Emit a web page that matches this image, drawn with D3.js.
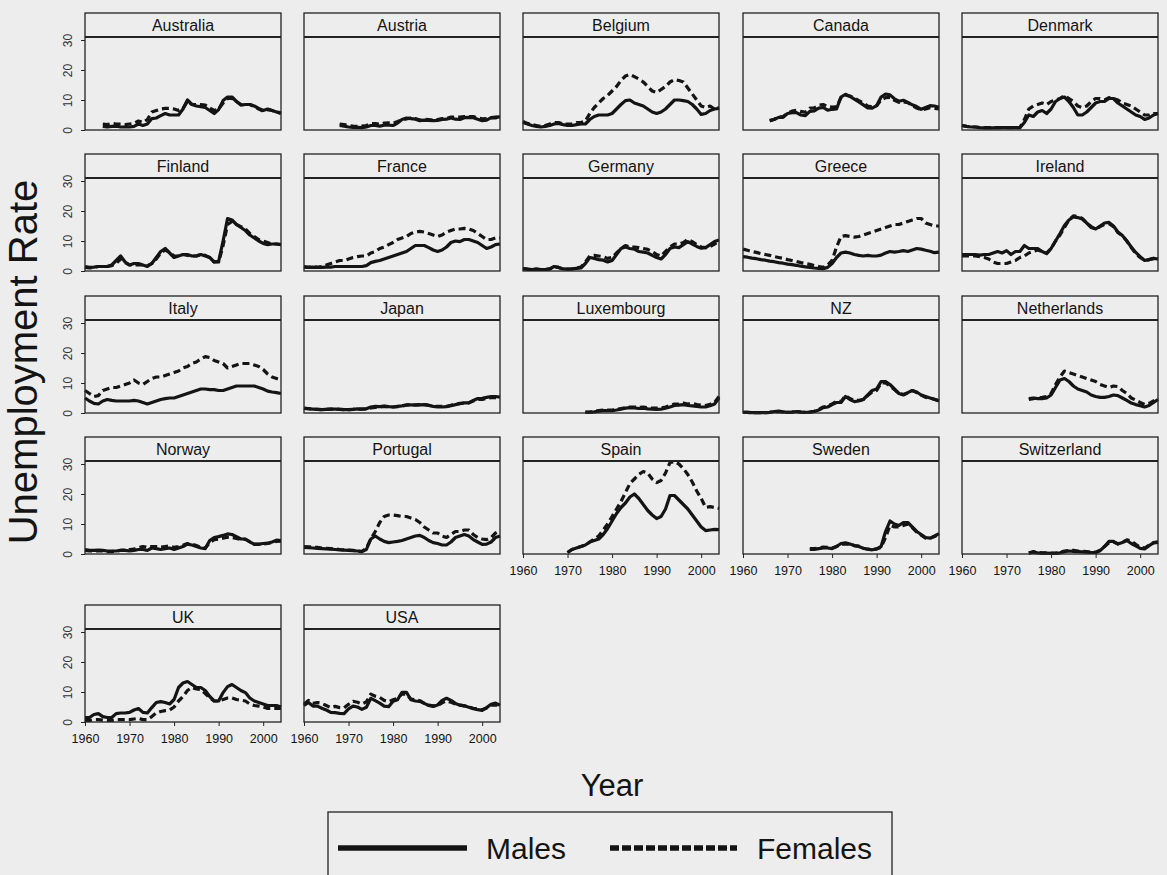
<!DOCTYPE html>
<html>
<head>
<meta charset="utf-8">
<script src="https://cdn.jsdelivr.net/npm/d3@7"></script>
<style>
  html, body { margin: 0; padding: 0; background: #ededed; }
  svg { display: block; font-family: "Liberation Sans", Arial, Helvetica, sans-serif; }
</style>
</head>
<body>
<svg id="chart" width="1167" height="875"></svg>
<script>
// Unemployment rate (%) by sex, OECD countries, annual values.
const countries = ["Australia", "Austria", "Belgium", "Canada", "Denmark",
  "Finland", "France", "Germany", "Greece", "Ireland",
  "Italy", "Japan", "Luxembourg", "NZ", "Netherlands",
  "Norway", "Portugal", "Spain", "Sweden", "Switzerland",
  "UK", "USA"];

// first year of each country's series; every series runs to 2004
const firstYear = [1964, 1968, 1960, 1966, 1960,
  1960, 1960, 1960, 1960, 1960,
  1960, 1960, 1974, 1960, 1975,
  1960, 1960, 1970, 1975, 1975,
  1960, 1960];

const males = [
  [1.2,1.0,1.2,1.3,1.0,1.0,1.0,1.2,2.0,1.5,2.0,3.8,4.0,4.8,5.5,5.0,5.0,5.0,7.0,10.0,8.5,8.0,7.8,7.5,6.5,5.5,6.8,9.8,11.0,11.0,9.5,8.3,8.5,8.5,8.0,7.2,6.5,7.0,6.5,6.0,5.5],
  [1.5,1.3,1.0,0.9,0.9,0.8,1.0,1.5,1.5,1.3,1.6,1.6,1.5,2.3,3.5,4.0,3.8,3.6,3.1,3.3,3.2,3.1,3.2,3.5,3.6,4.0,3.6,3.5,4.1,4.2,4.1,3.6,3.1,3.3,4.1,4.3,4.4],
  [2.5,2.0,1.5,1.2,1.0,1.2,1.5,2.0,2.2,1.8,1.5,1.5,1.8,2.0,2.0,3.5,4.5,5.0,5.0,5.0,5.5,7.0,8.5,9.8,10.0,9.0,8.5,8.0,7.0,6.0,5.5,6.0,7.0,8.5,10.0,10.0,9.8,9.5,8.5,7.0,5.2,5.5,6.5,7.0,7.2],
  [3.2,3.5,4.2,4.2,5.5,5.8,5.8,5.0,4.8,6.2,6.4,7.3,7.5,6.6,6.9,7.0,11.0,11.9,11.2,10.3,9.4,8.4,7.4,7.3,8.1,11.0,12.0,11.7,10.4,9.6,9.9,9.2,8.4,7.8,6.9,7.5,8.1,8.0,7.6],
  [1.5,1.2,1.0,1.0,0.8,0.7,0.7,0.7,0.8,0.8,0.8,0.8,0.8,0.8,2.5,5.0,4.5,6.0,6.5,5.5,7.0,9.5,10.5,11.0,9.5,7.5,5.0,5.0,6.0,7.5,9.0,9.5,9.5,10.5,10.5,9.0,8.0,7.0,6.0,5.0,4.5,3.5,4.0,5.0,5.5],
  [1.5,1.2,1.3,1.5,1.5,1.5,2.0,3.5,5.0,3.0,2.0,2.5,2.5,2.0,1.5,2.5,4.5,6.5,7.5,6.0,4.5,5.0,5.5,5.5,5.0,5.0,5.5,5.0,4.5,3.0,3.2,10.0,17.5,17.0,15.5,14.5,13.5,12.0,11.0,10.0,9.2,8.8,9.0,9.0,8.8],
  [1.3,1.2,1.3,1.2,1.2,1.3,1.3,1.5,1.5,1.5,1.5,1.5,1.5,1.5,1.8,2.8,3.2,3.5,4.0,4.5,5.0,5.5,6.0,6.5,7.5,8.5,8.5,8.5,7.8,7.0,6.5,7.0,8.0,9.5,10.0,9.8,10.5,10.5,10.0,9.5,8.5,7.5,8.0,8.8,9.0],
  [0.8,0.6,0.5,0.6,0.5,0.5,0.7,1.5,1.2,0.7,0.6,0.7,0.9,1.0,2.5,4.5,4.2,3.8,3.6,3.0,3.5,5.5,7.5,8.0,7.5,7.3,6.5,6.3,6.0,5.2,4.5,4.0,5.5,7.5,8.0,7.8,8.8,9.8,9.0,8.2,7.6,7.8,8.8,9.8,10.3],
  [4.8,4.6,4.3,4.1,3.8,3.6,3.3,3.1,2.8,2.6,2.3,2.1,1.9,1.6,1.4,1.2,1.0,0.9,0.8,1.2,2.5,4.5,6.0,6.3,6.0,5.5,5.2,5.0,5.2,5.0,5.0,5.3,6.0,6.5,6.3,6.5,6.8,6.5,7.0,7.5,7.3,6.9,6.6,6.1,6.3],
  [5.5,5.5,5.5,5.5,5.3,5.5,5.5,6.0,6.5,6.0,6.8,5.5,6.5,6.5,8.5,7.5,7.5,7.5,6.5,5.8,7.5,10.0,12.5,15.2,17.0,18.0,17.8,17.3,16.0,14.5,14.0,15.0,16.0,16.2,15.0,13.0,11.8,10.0,8.0,6.2,4.8,3.5,3.8,4.2,4.0],
  [5.0,4.0,3.2,3.0,4.0,4.5,4.2,4.0,4.0,4.0,4.0,4.2,4.0,3.5,3.0,3.5,4.0,4.5,4.8,5.0,5.0,5.5,6.0,6.5,7.0,7.5,8.0,8.0,7.8,7.8,7.5,7.5,8.0,8.5,9.0,9.0,9.0,9.0,9.0,8.5,8.0,7.3,7.0,6.8,6.5],
  [1.5,1.4,1.3,1.2,1.1,1.2,1.3,1.3,1.2,1.1,1.1,1.2,1.4,1.3,1.4,2.0,2.2,2.1,2.3,2.1,2.0,2.2,2.4,2.7,2.7,2.6,2.7,2.8,2.5,2.2,2.0,2.0,2.1,2.4,2.8,3.1,3.4,3.4,4.2,4.8,4.9,5.2,5.5,5.5,5.3],
  [0.3,0.3,0.4,0.6,0.8,0.8,0.8,1.0,1.3,1.6,1.8,1.7,1.5,1.6,1.4,1.3,1.2,1.3,1.6,2.0,2.5,2.6,2.8,2.5,2.4,2.2,2.0,2.0,2.4,3.0,5.0],
  [0.2,0.2,0.1,0.1,0.1,0.1,0.2,0.5,0.6,0.4,0.2,0.3,0.5,0.3,0.2,0.3,0.5,1.0,1.8,2.0,2.8,3.5,3.5,5.5,4.5,3.8,4.0,4.5,6.0,7.5,8.0,10.5,10.5,9.5,8.0,6.5,6.0,6.8,7.5,7.0,6.0,5.5,5.0,4.5,4.0],
  [4.8,5.0,4.8,4.8,5.0,6.0,8.5,11.0,11.5,10.5,9.0,8.0,7.5,7.0,6.0,5.5,5.2,5.2,5.5,6.0,5.8,5.0,4.2,3.3,2.8,2.4,2.0,2.5,3.5,4.5],
  [1.5,1.2,1.2,1.3,1.2,1.0,1.0,1.0,1.2,1.2,1.0,1.2,1.5,1.5,1.2,2.0,1.8,1.5,1.8,2.0,1.5,2.0,2.5,3.3,3.0,2.5,2.0,1.8,4.5,5.5,5.8,6.2,6.7,6.5,5.8,5.0,5.0,4.0,3.3,3.3,3.5,3.6,4.0,4.6,4.5],
  [2.2,2.1,2.0,1.9,1.8,1.7,1.6,1.5,1.4,1.3,1.2,1.1,1.0,0.8,1.5,5.0,6.0,5.0,4.2,3.8,4.0,4.2,4.5,5.0,5.5,6.0,6.2,5.5,4.5,3.8,3.5,3.0,3.0,4.0,5.5,6.0,6.5,6.0,4.8,4.0,3.2,3.3,4.0,5.5,6.0],
  [0.5,1.5,2.0,2.5,3.0,4.0,4.5,5.0,6.5,8.5,11.0,13.5,15.5,17.0,19.0,20.0,18.5,16.5,14.5,13.0,11.8,12.5,15.0,19.5,19.5,18.0,16.5,15.0,13.0,11.0,9.0,7.8,8.0,8.2,8.1],
  [1.5,1.5,1.8,2.0,2.0,1.8,2.5,3.5,3.7,3.3,2.8,2.5,1.9,1.6,1.4,1.7,2.5,7.5,11.0,10.0,9.5,10.5,10.5,9.0,7.5,6.5,5.5,5.3,6.0,6.8],
  [0.3,0.6,0.4,0.3,0.3,0.2,0.2,0.4,0.8,1.0,0.9,0.8,0.7,0.6,0.5,0.5,1.1,2.5,4.2,4.2,3.3,3.8,4.5,3.5,2.7,1.9,1.7,2.8,3.7,3.9],
  [1.5,1.5,2.5,2.8,1.8,1.5,1.5,2.8,3.0,3.0,3.2,4.0,4.5,3.2,3.0,4.8,6.5,6.8,6.5,6.0,7.5,11.5,13.0,13.5,12.5,11.5,11.5,10.5,8.5,7.0,7.0,9.8,11.8,12.5,11.5,10.5,9.8,8.0,7.0,6.5,6.0,5.5,5.5,5.5,5.0],
  [5.5,6.5,5.3,5.3,4.6,4.0,3.2,3.1,2.9,2.8,4.4,5.3,5.0,4.2,4.9,7.9,7.1,6.3,5.3,5.1,6.9,7.4,9.9,9.9,7.4,7.0,6.9,6.2,5.5,5.2,5.7,7.2,7.9,7.2,6.2,5.6,5.4,4.9,4.4,4.1,3.9,4.8,5.9,6.3,5.6]
];

const females = [
  [2.0,1.8,2.2,2.0,2.0,1.8,2.0,2.2,3.0,2.5,3.5,6.0,6.5,7.0,7.2,7.2,7.0,6.5,7.2,9.6,8.5,8.5,8.5,8.3,7.3,6.5,7.0,9.0,10.5,10.5,9.5,8.5,8.5,8.5,7.8,7.0,6.3,6.8,6.5,6.0,5.7],
  [2.0,1.8,1.5,1.3,1.2,1.3,1.5,2.2,2.1,1.9,2.3,2.4,2.3,2.8,3.4,3.7,4.0,3.8,3.3,3.6,3.5,3.3,3.5,3.8,3.8,4.3,4.3,4.3,4.5,4.5,4.5,4.0,3.7,3.8,4.0,4.0,4.5],
  [2.8,2.2,1.8,1.5,1.2,1.5,2.0,2.5,2.5,2.0,2.0,2.0,2.5,2.5,3.0,5.5,7.5,9.0,10.5,11.5,13.0,14.5,16.5,18.0,18.5,17.8,17.0,16.0,14.5,13.0,12.5,13.5,14.5,16.0,16.8,16.5,16.0,14.0,12.0,10.0,8.0,7.5,8.0,7.0,7.5],
  [3.0,3.6,4.3,4.5,5.6,6.3,6.6,6.2,5.9,7.3,7.4,8.3,8.5,7.8,7.6,7.7,10.8,11.6,11.3,10.7,9.8,9.0,8.0,7.7,8.1,10.0,10.8,10.9,9.9,9.2,9.4,9.1,8.1,7.3,6.7,7.0,7.4,7.2,7.0],
  [1.5,1.2,1.0,1.0,0.8,0.8,0.8,0.8,0.8,0.8,0.8,0.8,0.8,0.8,3.5,7.0,8.0,8.5,9.0,8.5,9.5,10.0,10.5,11.5,10.5,9.5,8.0,7.5,8.0,9.5,10.5,10.5,10.0,10.8,10.5,10.0,9.0,8.5,8.0,7.0,6.0,5.0,5.0,5.5,5.5],
  [1.2,1.0,1.2,1.5,1.5,1.5,1.8,2.5,4.0,2.8,2.0,2.0,2.0,2.0,1.8,2.5,4.0,6.0,7.0,6.2,5.0,5.0,5.5,5.2,5.0,5.0,5.5,5.2,4.5,3.0,3.0,8.5,15.5,16.5,15.5,14.8,14.0,12.5,11.5,10.5,10.0,9.5,9.0,9.0,8.8],
  [1.5,1.2,1.5,1.2,1.5,2.0,2.5,3.0,3.5,3.5,4.0,4.5,4.8,5.0,5.0,6.0,6.5,7.5,8.0,8.8,9.5,10.5,11.0,11.5,12.5,13.0,13.2,13.0,12.5,12.0,11.5,12.0,13.0,13.5,14.0,14.0,14.2,14.0,13.5,12.5,11.5,10.5,10.5,11.0,11.0],
  [0.8,0.6,0.5,0.6,0.5,0.5,0.7,1.3,1.2,0.7,0.6,0.7,1.0,1.3,3.0,5.0,5.2,5.0,4.8,4.2,4.5,6.0,7.5,8.5,8.0,8.0,7.8,7.5,7.2,6.5,5.5,5.0,6.5,8.0,9.0,9.0,9.5,10.5,9.8,8.8,8.0,7.8,8.2,9.0,9.8],
  [7.3,6.9,6.5,6.2,5.8,5.5,5.2,4.8,4.5,4.2,3.8,3.5,3.2,2.8,2.5,2.2,1.8,1.5,1.2,2.0,3.5,8.0,11.5,11.8,11.5,11.3,11.5,12.0,12.5,13.0,13.5,14.0,14.5,15.0,15.5,15.5,16.0,16.5,17.0,17.5,17.5,16.0,15.5,15.0,15.0],
  [5.0,5.0,5.0,5.0,4.8,4.5,4.0,3.0,2.5,2.5,2.5,3.0,3.5,4.5,5.0,6.0,6.5,7.0,6.5,6.0,7.5,10.0,12.0,14.5,17.0,18.4,18.2,17.5,16.0,14.8,14.0,14.8,15.5,15.8,14.8,12.8,11.8,10.0,7.8,5.8,4.5,3.5,3.8,4.2,4.0],
  [7.5,6.5,5.5,5.8,7.5,8.0,8.5,8.5,9.0,9.5,10.0,11.0,10.0,9.5,10.5,11.5,12.0,12.0,12.5,13.0,13.5,14.0,15.0,15.5,16.5,17.0,18.0,18.8,18.5,17.5,17.0,16.5,15.0,15.5,16.0,16.5,16.5,16.5,16.0,15.5,14.5,13.0,12.0,11.5,11.0],
  [1.6,1.5,1.3,1.2,1.1,1.2,1.3,1.3,1.2,1.1,1.1,1.2,1.3,1.3,1.4,1.7,1.9,2.0,2.2,2.0,2.0,2.1,2.3,2.6,2.8,2.7,2.8,2.8,2.6,2.3,2.2,2.2,2.2,2.6,3.0,3.2,3.3,3.4,4.0,4.5,4.5,4.9,5.1,5.1,4.8],
  [0.2,0.3,0.5,0.8,1.0,1.0,1.0,1.2,1.5,1.8,2.0,2.0,1.8,2.0,1.8,1.6,1.6,1.7,2.0,2.5,3.0,3.0,3.3,3.0,3.2,2.8,2.6,2.5,2.9,3.5,5.5],
  [0.2,0.2,0.1,0.1,0.1,0.1,0.2,0.4,0.5,0.4,0.2,0.3,0.5,0.3,0.2,0.3,0.6,1.2,2.0,2.3,3.0,4.0,3.8,5.8,4.8,4.2,4.2,4.5,5.8,7.0,7.5,10.0,10.0,9.0,7.8,6.5,6.2,6.7,7.5,6.8,6.0,5.2,5.0,4.6,4.1],
  [4.5,4.8,5.0,5.2,5.5,6.5,9.5,12.0,14.0,13.5,13.0,12.5,12.0,11.5,11.0,10.5,9.5,9.0,8.5,9.0,8.8,7.5,6.5,5.0,4.3,3.5,2.8,3.2,4.0,5.0],
  [1.2,1.0,1.0,1.0,1.0,0.8,0.8,1.0,1.2,1.3,1.5,1.6,2.2,2.5,2.2,2.5,2.5,2.3,2.5,2.7,2.2,2.5,2.9,3.5,3.3,2.8,2.2,2.0,3.8,4.8,5.0,5.3,5.6,5.5,5.2,4.8,4.9,4.1,3.2,3.2,3.3,3.5,3.8,4.2,4.3],
  [2.5,2.4,2.3,2.2,2.0,1.9,1.8,1.7,1.5,1.4,1.3,1.2,1.0,0.8,2.0,5.0,7.5,10.5,12.5,13.0,13.0,12.8,12.5,12.5,12.0,11.5,10.5,9.0,8.0,7.0,7.0,6.0,5.5,6.5,7.5,7.5,8.0,8.0,6.5,5.5,5.0,4.8,5.5,7.0,8.0],
  [0.5,1.5,2.0,2.5,3.0,4.0,5.0,6.0,8.0,10.0,12.5,15.0,17.5,20.5,23.5,25.0,26.5,27.5,27.0,25.0,23.8,24.5,27.0,30.5,30.8,30.0,28.5,26.5,24.0,21.0,18.5,15.5,15.8,15.5,15.2],
  [1.8,1.8,2.0,2.3,2.2,2.0,2.5,3.3,3.4,3.2,2.8,2.6,1.9,1.6,1.4,1.7,2.2,5.5,9.5,9.0,9.0,9.5,10.0,8.8,7.3,6.3,5.3,5.2,5.8,6.5],
  [0.3,0.8,0.5,0.4,0.4,0.3,0.3,0.5,1.0,1.2,1.2,1.0,0.9,0.8,0.6,0.6,1.3,2.5,3.8,4.0,3.4,3.9,4.7,4.3,3.2,2.3,2.0,2.9,3.8,4.1],
  [0.6,0.5,0.8,0.8,0.6,0.5,0.5,0.8,0.8,0.8,0.8,1.0,1.2,0.8,0.8,1.8,3.0,3.5,3.8,4.0,5.0,7.0,8.5,10.5,11.5,11.0,10.8,9.5,8.0,7.0,7.0,7.5,8.0,8.0,7.5,7.3,7.0,6.0,5.5,5.3,5.0,4.5,4.5,4.5,4.5],
  [5.9,7.2,6.2,6.5,6.2,5.5,4.8,5.2,4.8,4.7,5.9,6.9,6.6,6.0,6.7,9.3,8.6,8.2,7.2,6.8,7.4,7.9,9.4,9.2,7.6,7.4,7.1,6.2,5.6,5.4,5.5,6.4,7.0,6.6,6.0,5.6,5.4,5.0,4.6,4.3,4.1,4.7,5.6,5.7,5.4]
];

const yearTicks = [1960, 1970, 1980, 1990, 2000];
const rateTicks = [0, 10, 20, 30];
const seriesNames = ["Males", "Females"];

// ---- layout ----
const colX = [85, 304, 523, 743, 962];
const rowY = [13, 154, 296, 437, 605];
const panelW = 196, stripH = 24, plotH = 93;
const nCols = 5;

const x = d3.scaleLinear().domain([1960, 2004]).range([0, panelW]);
const y = d3.scaleLinear().domain([0, 31]).range([plotH, 0]);

const lineGen = d3.line()
  .x(d => x(d[0]))
  .y(d => y(d[1]))
  .curve(d3.curveLinear);

const lineStyle = {
  Males:   { dash: null,  width: 3.2 },
  Females: { dash: "7,4", width: 3.2 }
};

const svg = d3.select("#chart");
const ink = "#141414";

countries.forEach((name, i) => {
  const r = Math.floor(i / nCols), c = i % nCols;
  const g = svg.append("g")
    .attr("transform", `translate(${colX[c]},${rowY[r]})`);

  // strip with country name
  g.append("text")
    .attr("x", panelW / 2)
    .attr("y", stripH / 2 + 5.8)
    .attr("text-anchor", "middle")
    .attr("font-size", 16)
    .attr("fill", ink)
    .text(name);

  const plot = g.append("g").attr("transform", `translate(0,${stripH})`);

  // the two series
  [males[i], females[i]].forEach((vals, k) => {
    const pts = vals.map((v, j) => [firstYear[i] + j, v]);
    const st = lineStyle[seriesNames[k]];
    plot.append("path")
      .datum(pts)
      .attr("d", lineGen)
      .attr("fill", "none")
      .attr("stroke", ink)
      .attr("stroke-width", st.width)
      .attr("stroke-linejoin", "round")
      .attr("stroke-dasharray", st.dash);
  });

  // panel frame and strip divider
  g.append("rect")
    .attr("x", 0).attr("y", 0)
    .attr("width", panelW).attr("height", stripH + plotH)
    .attr("fill", "none").attr("stroke", "#222").attr("stroke-width", 1.3);
  g.append("line")
    .attr("x1", 0).attr("x2", panelW)
    .attr("y1", stripH).attr("y2", stripH)
    .attr("stroke", "#222").attr("stroke-width", 2);

  // y axis on the first column
  if (c === 0) {
    const ay = plot.append("g")
      .call(d3.axisLeft(y).tickValues(rateTicks).tickSizeInner(4).tickSizeOuter(0));
    ay.select(".domain").remove();
    ay.selectAll("line").attr("stroke", "#222");
    ay.selectAll("text")
      .attr("transform", "rotate(-90)")
      .attr("text-anchor", "middle")
      .attr("x", 0).attr("y", -13).attr("dy", 0)
      .attr("font-size", 12)
      .attr("font-family", null)
      .attr("fill", "#333");
  }

  // x axis under the last panel of each column
  if (i + nCols >= countries.length) {
    const ax = plot.append("g")
      .attr("transform", `translate(0,${plotH})`)
      .call(d3.axisBottom(x).tickValues(yearTicks).tickFormat(d3.format("d"))
        .tickSizeInner(4).tickSizeOuter(0));
    ax.select(".domain").remove();
    ax.selectAll("line").attr("stroke", "#222");
    ax.selectAll("text")
      .attr("y", 12)
      .attr("font-size", 12.5)
      .attr("font-family", null)
      .attr("fill", ink);
  }
});

// axis titles
svg.append("text")
  .attr("transform", "translate(37,362) rotate(-90)")
  .attr("text-anchor", "middle")
  .attr("font-size", 40)
  .attr("fill", ink)
  .text("Unemployment Rate");

svg.append("text")
  .attr("x", 612).attr("y", 796)
  .attr("text-anchor", "middle")
  .attr("font-size", 31)
  .attr("fill", ink)
  .text("Year");

// legend
const legend = svg.append("g");
legend.append("rect")
  .attr("x", 328).attr("y", 812)
  .attr("width", 564).attr("height", 90)
  .attr("fill", "none").attr("stroke", "#222").attr("stroke-width", 1.3);

const legendItems = [
  { name: "Males",   x1: 338, x2: 467, tx: 486 },
  { name: "Females", x1: 610, x2: 737, tx: 757 }
];
legendItems.forEach(it => {
  legend.append("line")
    .attr("x1", it.x1).attr("x2", it.x2)
    .attr("y1", 848).attr("y2", 848)
    .attr("stroke", ink).attr("stroke-width", 5.5)
    .attr("stroke-dasharray", it.name === "Females" ? "9,3" : null);
  legend.append("text")
    .attr("x", it.tx).attr("y", 859)
    .attr("font-size", 30)
    .attr("fill", ink)
    .text(it.name);
});
</script>
</body>
</html>
